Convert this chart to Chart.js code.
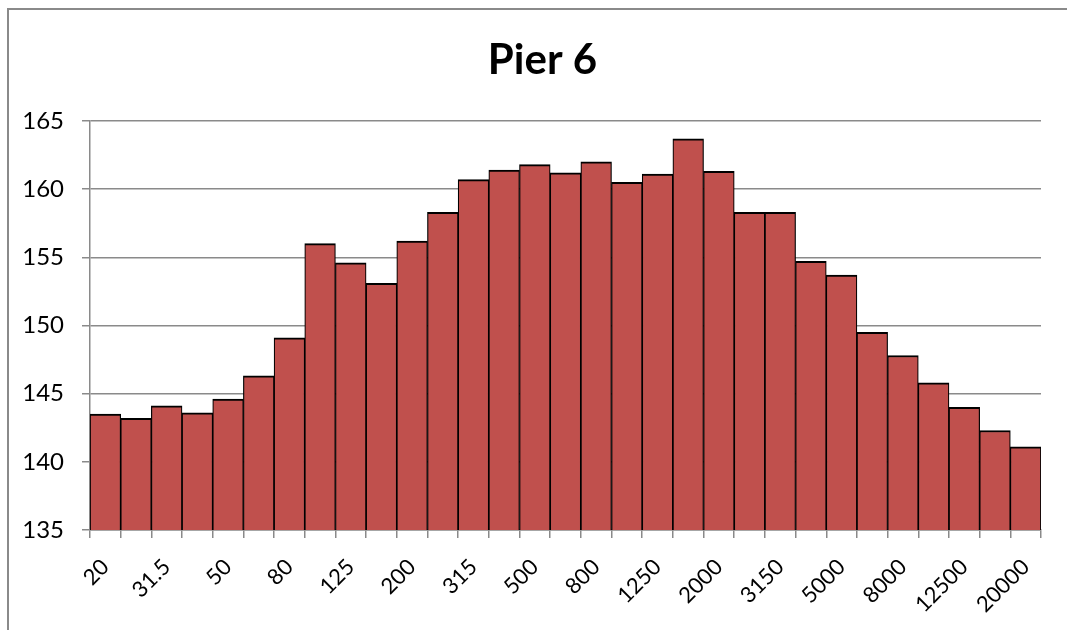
<!DOCTYPE html>
<html>
<head>
<meta charset="utf-8">
<title>Pier 6</title>
<script src="https://cdn.jsdelivr.net/npm/chart.js@4.4.1/dist/chart.umd.min.js"></script>
<style>
    html, body { margin: 0; padding: 0; background: #fff; overflow: hidden; }
    .frame { position: absolute; left: 7px; top: 8px; width: 1200px; height: 800px; border-left: 2px solid #8a8a8a; border-top: 2px solid #8a8a8a; }
    .content { position: absolute; left: 0; top: 0; width: 1067px; height: 630px; }
</style>
</head>
<body>
<div class="frame"></div>
<div class="content"><canvas id="pier-histogram"></canvas></div>
<script>
// third octave bands, Hz
const bandLabels = ['20', '25', '31.5', '40', '50', '63', '80', '100', '125', '160', '200', '250', '315', '400', '500', '630',
    '800', '1000', '1250', '1600', '2000', '2500', '3150', '4000', '5000', '6300', '8000', '10000', '12500', '16000', '20000']

const pierLevels = [143.5, 143.2, 144.1, 143.6, 144.6, 146.3, 149.1, 156.0, 154.6, 153.1, 156.2, 158.3, 160.7, 161.4, 161.8, 161.2,
    162.0, 160.5, 161.1, 163.7, 161.3, 158.3, 158.3, 154.7, 153.7, 149.5, 147.8, 145.8, 144.0, 142.3, 141.1]

const yMin = 135
const yMax = 165
const yStep = 5

const gridColor = '#8a8a8a'
const fontName = 'Lato, "Open Sans", sans-serif'

const pierData = {
    labels: bandLabels,
    datasets: [{
        label: 'Pier 6',
        data: pierLevels,
        backgroundColor: '#C0504D',
        borderColor: '#000000',
        borderWidth: {top: 2, left: 1.2, right: 1.2, bottom: 0},
        borderSkipped: 'bottom',
        categoryPercentage: 1,
        barPercentage: 1
    }]
}

// title sits a bit right of the canvas centre, like in the original sheet
const titleShift = {
    id: 'titleShift',
    afterLayout(chart) {
        chart.titleBlock.left = 44
    }
}

const pierChartConfig = {
    type: 'bar',
    data: pierData,
    options: {
        responsive: true,
        maintainAspectRatio: false,
        animation: false,
        layout: {
            padding: {left: 0, right: 26, top: 0, bottom: 0}
        },
        plugins: {
            legend: {display: false},
            tooltip: {enabled: false},
            title: {
                display: true,
                text: 'Pier 6',
                color: '#000000',
                font: {family: fontName, size: 42, weight: 'bold', lineHeight: 1.2},
                padding: {top: 35, bottom: 35.6}
            }
        },
        scales: {
            x: {
                grid: {
                    offset: true,
                    drawOnChartArea: false,
                    drawTicks: true,
                    tickLength: 8,
                    color: gridColor,
                    lineWidth: 1.5
                },
                border: {display: true, color: gridColor, width: 1.5},
                ticks: {
                    autoSkip: false,
                    maxRotation: 45,
                    minRotation: 45,
                    padding: 16,
                    color: '#000000',
                    font: {family: fontName, size: 22},
                    callback: (value, index) => index % 2 === 0 ? bandLabels[index] : ''
                },
                afterFit: (scale) => { scale.height = 100 }
            },
            y: {
                min: yMin,
                max: yMax,
                grid: {
                    drawTicks: true,
                    tickLength: 8,
                    color: gridColor,
                    lineWidth: 1.5
                },
                border: {display: true, color: gridColor, width: 1.5},
                ticks: {
                    stepSize: yStep,
                    padding: 18,
                    color: '#000000',
                    font: {family: fontName, size: 24}
                },
                afterFit: (scale) => { scale.width = 90 }
            }
        }
    },
    plugins: [titleShift]
}

const pierChart = new Chart(
    document.getElementById('pier-histogram'),
    pierChartConfig
)
</script>
</body>
</html>
